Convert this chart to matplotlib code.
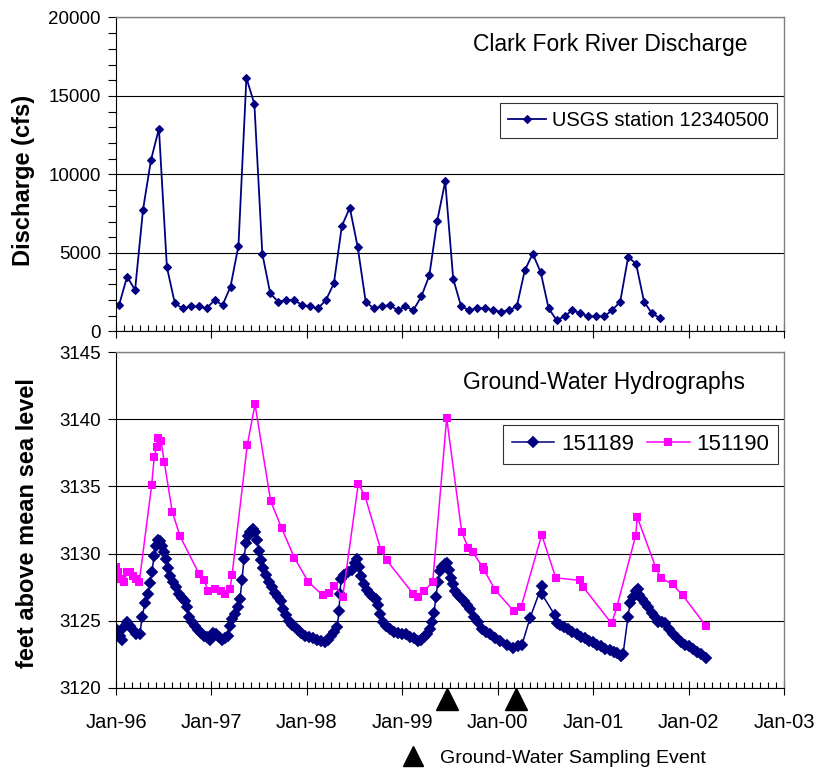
import matplotlib
matplotlib.use("Agg")
import matplotlib.pyplot as plt
from matplotlib.lines import Line2D
from matplotlib.ticker import MultipleLocator, FixedLocator, FixedFormatter
import numpy as np

plt.rcParams['font.family'] = ['Liberation Sans', 'DejaVu Sans']

NAVY = '#000080'
MAGENTA = '#ff00ff'

# monthly discharge, USGS station 12340500 (Jan-96 .. Sep-01), cfs
discharge = [1700, 3500, 2630, 7760, 10920, 12920, 4100, 1790, 1470, 1590, 1590, 1470,
             2000, 1680, 2850, 5460, 16150, 14490, 4950, 2420, 1890, 2000, 2000, 1680,
             1590, 1470, 2000, 3060, 6720, 7880, 5360, 1890, 1470, 1590, 1680, 1360,
             1590, 1360, 2230, 3570, 7060, 9560, 3360, 1590, 1360, 1470, 1470, 1360,
             1250, 1360, 1590, 3890, 4950, 3780, 1470, 720, 960, 1360, 1150, 960,
             960, 960, 1360, 1890, 4740, 4310, 1890, 1150, 850]
discharge_t = 1996 + (np.arange(len(discharge)) + 0.4) / 12

# well 151189 (years since Jan 1996, ft above msl)
w189_t = [0.000, 0.021, 0.042, 0.063, 0.084, 0.115, 0.147, 0.178, 0.210, 0.251,
          0.273, 0.304, 0.335, 0.356, 0.377, 0.398, 0.419, 0.440, 0.461, 0.482,
          0.503, 0.524, 0.545, 0.566, 0.597, 0.629, 0.660, 0.692, 0.723, 0.744,
          0.765, 0.796, 0.828, 0.859, 0.891, 0.922, 0.954, 0.985, 1.016, 1.048,
          1.079, 1.111, 1.142, 1.174, 1.195, 1.216, 1.247, 1.278, 1.299, 1.320,
          1.341, 1.362, 1.383, 1.404, 1.436, 1.457, 1.478, 1.499, 1.519, 1.540,
          1.572, 1.603, 1.635, 1.666, 1.698, 1.729, 1.750, 1.781, 1.813, 1.844,
          1.876, 1.907, 1.939, 1.981, 2.022, 2.064, 2.106, 2.148, 2.190, 2.222,
          2.253, 2.284, 2.316, 2.337, 2.347, 2.358, 2.389, 2.431, 2.473, 2.504,
          2.525, 2.546, 2.567, 2.599, 2.630, 2.662, 2.693, 2.725, 2.746, 2.766,
          2.798, 2.829, 2.871, 2.913, 2.955, 2.997, 3.039, 3.081, 3.123, 3.165,
          3.196, 3.228, 3.259, 3.290, 3.311, 3.332, 3.353, 3.374, 3.395, 3.416,
          3.448, 3.469, 3.490, 3.510, 3.531, 3.552, 3.584, 3.615, 3.647, 3.678,
          3.710, 3.751, 3.793, 3.835, 3.877, 3.919, 3.972, 4.024, 4.097, 4.160,
          4.213, 4.254, 4.338, 4.461, 4.461, 4.600, 4.621, 4.653, 4.695, 4.737,
          4.778, 4.831, 4.873, 4.915, 4.957, 4.999, 5.040, 5.082, 5.124, 5.177,
          5.218, 5.250, 5.292, 5.313, 5.365, 5.386, 5.418, 5.449, 5.465, 5.480,
          5.512, 5.543, 5.575, 5.617, 5.648, 5.680, 5.721, 5.753, 5.795, 5.836,
          5.878, 5.920, 5.962, 6.004, 6.046, 6.088, 6.130, 6.182]
w189_v = [3124.4, 3124.2, 3123.9, 3123.6, 3124.5, 3124.9, 3124.6, 3124.3, 3124.0, 3124.0,
          3125.3, 3126.3, 3127.0, 3127.8, 3128.6, 3129.8, 3130.6, 3131.0, 3130.9, 3130.6,
          3130.1, 3129.6, 3128.9, 3128.3, 3127.9, 3127.5, 3127.0, 3126.7, 3126.5, 3126.0,
          3125.3, 3124.9, 3124.6, 3124.3, 3124.1, 3123.9, 3123.8, 3123.6, 3124.1, 3124.0,
          3123.8, 3123.6, 3123.7, 3123.9, 3124.6, 3125.1, 3125.5, 3126.0, 3126.6, 3128.0,
          3129.6, 3130.8, 3131.3, 3131.6, 3131.8, 3131.6, 3131.0, 3130.2, 3129.5, 3128.9,
          3128.4, 3127.9, 3127.5, 3127.1, 3126.8, 3126.5, 3125.9, 3125.4, 3125.0, 3124.7,
          3124.5, 3124.3, 3124.1, 3123.9, 3123.8, 3123.7, 3123.6, 3123.5, 3123.4, 3123.6,
          3123.9, 3124.2, 3124.5, 3125.7, 3127.0, 3128.1, 3128.4, 3128.6, 3128.8, 3129.3,
          3129.6, 3129.0, 3128.3, 3127.7, 3127.3, 3127.0, 3126.8, 3126.6, 3126.2, 3125.5,
          3124.9, 3124.6, 3124.4, 3124.2, 3124.1, 3124.0, 3124.0, 3123.8, 3123.7, 3123.5,
          3123.6, 3123.8, 3124.0, 3124.4, 3124.9, 3125.6, 3126.8, 3127.9, 3128.7, 3129.0,
          3129.2, 3129.3, 3128.8, 3128.2, 3127.7, 3127.2, 3126.9, 3126.7, 3126.5, 3126.2,
          3125.9, 3125.3, 3124.9, 3124.4, 3124.2, 3124.0, 3123.7, 3123.5, 3123.2, 3123.0,
          3123.1, 3123.2, 3125.2, 3127.6, 3127.0, 3125.4, 3124.8, 3124.7, 3124.5, 3124.4,
          3124.2, 3124.0, 3123.8, 3123.7, 3123.5, 3123.4, 3123.2, 3123.1, 3122.9, 3122.8,
          3122.7, 3122.6, 3122.4, 3122.5, 3125.3, 3126.3, 3126.8, 3127.2, 3127.4, 3126.9,
          3126.6, 3126.3, 3126.0, 3125.6, 3125.3, 3124.9, 3124.9, 3124.85, 3124.4, 3124.0,
          3123.7, 3123.4, 3123.2, 3123.1, 3122.9, 3122.7, 3122.55, 3122.25]

# well 151190
w190_t = [0.000, 0.021, 0.052, 0.084, 0.115, 0.147, 0.178, 0.210, 0.244, 0.374,
          0.401, 0.426, 0.437, 0.472, 0.506, 0.590, 0.671, 0.870, 0.925, 0.967,
          1.037, 1.097, 1.142, 1.195, 1.216, 1.376, 1.457, 1.621, 1.736, 1.868,
          2.015, 2.166, 2.235, 2.288, 2.376, 2.539, 2.609, 2.774, 2.837, 3.115,
          3.168, 3.228, 3.319, 3.465, 3.623, 3.692, 3.738, 3.843, 3.856, 3.972,
          4.171, 4.244, 4.461, 4.608, 4.862, 4.897, 5.194, 5.247, 5.444, 5.463,
          5.659, 5.708, 5.834, 5.938, 6.183]
w190_v = [3129.0, 3128.6, 3128.1, 3127.9, 3128.6, 3128.6, 3128.3, 3128.1, 3127.9, 3135.1,
          3137.2, 3137.9, 3138.6, 3138.4, 3136.8, 3133.1, 3131.3, 3128.5, 3128.0, 3127.2,
          3127.4, 3127.2, 3127.0, 3127.4, 3128.4, 3138.1, 3141.1, 3133.9, 3131.9, 3129.7,
          3127.9, 3126.9, 3127.1, 3127.6, 3126.8, 3135.2, 3134.3, 3130.3, 3129.5, 3127.0,
          3126.8, 3127.2, 3127.9, 3140.1, 3131.6, 3130.4, 3130.1, 3129.0, 3128.8, 3127.3,
          3125.7, 3126.0, 3131.4, 3128.2, 3128.0, 3127.5, 3124.8, 3126.0, 3131.3, 3132.7,
          3128.9, 3128.2, 3127.7, 3126.9, 3124.6]

sampling_t = [1999.465, 2000.19]

years = list(range(1996, 2004))
year_labels = ['Jan-96', 'Jan-97', 'Jan-98', 'Jan-99', 'Jan-00', 'Jan-01', 'Jan-02', 'Jan-03']


def style_axes(ax):
    ax.set_xlim(1996, 2003)
    ax.xaxis.set_major_locator(FixedLocator(years))
    ax.xaxis.set_minor_locator(MultipleLocator(1 / 12))
    ax.tick_params(axis='x', which='major', direction='inout', length=10, width=0.8)
    ax.tick_params(axis='x', which='minor', direction='in', length=4, width=0.8)
    ax.tick_params(axis='y', which='both', direction='out', length=6, width=0.8,
                   labelsize=13.5, pad=5)
    ax.grid(axis='y', which='major', color='black', lw=0.8)
    ax.set_axisbelow(True)
    for s in ['top', 'right']:
        ax.spines[s].set_color('#808080')
        ax.spines[s].set_linewidth(1.0)
    for s in ['left', 'bottom']:
        ax.spines[s].set_color('black')
        ax.spines[s].set_linewidth(0.8)


fig = plt.figure(figsize=(8.22, 7.73), dpi=100)
ax1 = fig.add_axes([0.1411, 0.5712, 0.8127, 0.4062])
ax2 = fig.add_axes([0.1411, 0.1100, 0.8127, 0.4346])

# --- discharge
ax1.plot(discharge_t, discharge, color=NAVY, lw=1.3, marker='D', ms=3.8, mew=0.8,
         label='USGS station 12340500')
style_axes(ax1)
ax1.set_ylim(0, 20000)
ax1.yaxis.set_major_locator(MultipleLocator(5000))
ax1.yaxis.set_minor_locator(MultipleLocator(1000))
ax1.tick_params(axis='x', labelbottom=False)
ax1.set_ylabel('Discharge (cfs)', fontsize=17, fontweight='bold')
ax1.yaxis.set_label_coords(-0.121, 0.48)
ax1.text(0.74, 0.915, 'Clark Fork River Discharge', transform=ax1.transAxes,
         fontsize=16.5, ha='center', va='center')
leg1 = ax1.legend(loc='upper right', bbox_to_anchor=(0.9895, 0.7277), fontsize=14.5,
                  frameon=True, fancybox=False, edgecolor='black', borderpad=0.4,
                  handlelength=1.9, handletextpad=0.3, borderaxespad=0)
leg1.get_frame().set_linewidth(0.8)

# --- ground water
ax2.plot(1996 + np.array(w189_t), w189_v, color=NAVY, lw=1.1, marker='D', ms=5.2,
         mew=1.3, label='151189')
ax2.plot(1996 + np.array(w190_t), w190_v, color=MAGENTA, lw=1.1, marker='s', ms=5.5,
         mew=0, label='151190')
style_axes(ax2)
ax2.set_ylim(3120, 3145)
ax2.yaxis.set_major_locator(MultipleLocator(5))
ax2.xaxis.set_major_formatter(FixedFormatter(year_labels))
ax2.tick_params(axis='x', which='major', labelsize=14.5, pad=13)
ax2.set_ylabel('feet above mean sea level', fontsize=17, fontweight='bold')
ax2.yaxis.set_label_coords(-0.115, 0.49)
ax2.text(0.73, 0.91, 'Ground-Water Hydrographs', transform=ax2.transAxes,
         fontsize=16.5, ha='center', va='center')
leg2 = ax2.legend(loc='upper right', bbox_to_anchor=(0.991, 0.7827), fontsize=16,
                  ncol=2, frameon=True, fancybox=False, edgecolor='black',
                  borderpad=0.4, handlelength=1.9, handletextpad=0.3,
                  columnspacing=0.6, borderaxespad=0)
leg2.get_frame().set_linewidth(0.8)

# sampling events just below the axis
ax2.plot(sampling_t, [3119.15] * len(sampling_t), linestyle='none', marker='^',
         ms=16.5, color='black', clip_on=False, zorder=5)

fig.legend(handles=[Line2D([], [], linestyle='none', marker='^', ms=15, color='black')],
           labels=['Ground-Water Sampling Event'], loc='center left',
           bbox_to_anchor=(0.4878, 0.0194), frameon=False, fontsize=14,
           handlelength=1.2, handletextpad=0.8, borderpad=0, borderaxespad=0)

fig.savefig('out.png', dpi=100)
